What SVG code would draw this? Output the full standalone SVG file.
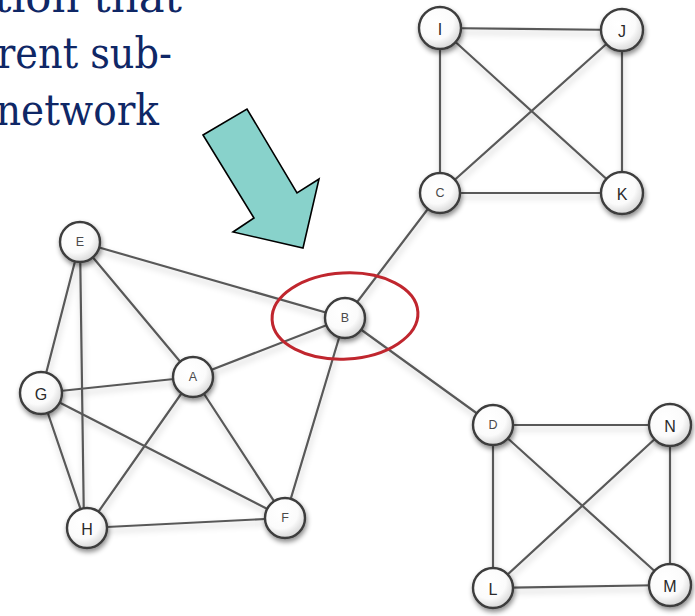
<svg xmlns="http://www.w3.org/2000/svg" width="695" height="616" viewBox="0 0 695 616">
  <defs>
    <radialGradient id="ball" cx="0.4" cy="0.35" r="0.7">
      <stop offset="0" stop-color="#ffffff"/>
      <stop offset="0.6" stop-color="#fbfbfb"/>
      <stop offset="1" stop-color="#d2d2d2"/>
    </radialGradient>
    <filter id="nodeShadow" x="-50%" y="-50%" width="200%" height="200%">
      <feDropShadow dx="1" dy="3" stdDeviation="2.5" flood-color="#000" flood-opacity="0.45"/>
    </filter>
    <filter id="edgeShadow" x="-10%" y="-10%" width="120%" height="120%">
      <feDropShadow dx="1" dy="4" stdDeviation="3" flood-color="#000" flood-opacity="0.22"/>
    </filter>
  </defs>
  <style>
    .caption { font-family: "DejaVu Serif", "Liberation Serif", serif; font-size: 43px; fill: #0f2766; }
    .edge { stroke: #595959; stroke-width: 2.2; fill: none; stroke-linecap: round; }
    .node circle { fill: url(#ball); stroke: #3c3c3c; stroke-width: 2.4; filter: url(#nodeShadow); }
    .node text { font-family: "Liberation Sans", Arial, sans-serif; text-anchor: middle; dominant-baseline: central; fill: #2a2a2a; }
    .big { font-size: 16px; }
    .small { font-size: 12.5px; fill: #4a4a4a !important; }
  </style>

  <rect width="695" height="616" fill="#ffffff"/>

  <!-- caption lines, clipped at the left edge -->
  <text class="caption" x="-6" y="12" textLength="188" lengthAdjust="spacingAndGlyphs">tion that</text>
  <text class="caption" x="-3" y="68" textLength="175" lengthAdjust="spacingAndGlyphs">rent sub-</text>
  <text class="caption" x="-4" y="125" textLength="163" lengthAdjust="spacingAndGlyphs">network</text>

  <!-- connectors -->
  <g id="edges" filter="url(#edgeShadow)">
    <line class="edge" x1="80" y1="242" x2="345" y2="318"/>
    <line class="edge" x1="80" y1="242" x2="41" y2="393"/>
    <line class="edge" x1="80" y1="242" x2="84" y2="528"/>
    <line class="edge" x1="80" y1="242" x2="193" y2="377"/>
    <line class="edge" x1="41" y1="393" x2="193" y2="377"/>
    <line class="edge" x1="41" y1="393" x2="87" y2="528"/>
    <line class="edge" x1="41" y1="393" x2="285" y2="518"/>
    <line class="edge" x1="193" y1="377" x2="345" y2="318"/>
    <line class="edge" x1="193" y1="377" x2="87" y2="528"/>
    <line class="edge" x1="193" y1="377" x2="285" y2="518"/>
    <line class="edge" x1="87" y1="528" x2="285" y2="518"/>
    <line class="edge" x1="345" y1="318" x2="285" y2="518"/>
    <line class="edge" x1="345" y1="318" x2="440" y2="193"/>
    <line class="edge" x1="345" y1="318" x2="493" y2="425"/>
    <line class="edge" x1="440" y1="28" x2="622" y2="30"/>
    <line class="edge" x1="440" y1="28" x2="440" y2="193"/>
    <line class="edge" x1="440" y1="28" x2="622" y2="193"/>
    <line class="edge" x1="622" y1="30" x2="622" y2="193"/>
    <line class="edge" x1="622" y1="30" x2="440" y2="193"/>
    <line class="edge" x1="440" y1="193" x2="622" y2="193"/>
    <line class="edge" x1="493" y1="425" x2="670" y2="425"/>
    <line class="edge" x1="493" y1="425" x2="493" y2="588"/>
    <line class="edge" x1="493" y1="425" x2="670" y2="585"/>
    <line class="edge" x1="670" y1="425" x2="493" y2="588"/>
    <line class="edge" x1="670" y1="425" x2="670" y2="585"/>
    <line class="edge" x1="493" y1="588" x2="670" y2="585"/>
  </g>

  <!-- nodes -->
  <g id="node-E" class="node"><circle cx="80" cy="242" r="20"/><text class="small" x="80" y="242">E</text></g>
  <g id="node-G" class="node"><circle cx="41" cy="393" r="21"/><text class="big" x="41" y="394">G</text></g>
  <g id="node-A" class="node"><circle cx="193" cy="377" r="20"/><text class="small" x="193" y="377">A</text></g>
  <g id="node-H" class="node"><circle cx="87" cy="528" r="20"/><text class="big" x="87" y="529">H</text></g>
  <g id="node-F" class="node"><circle cx="285" cy="518" r="20"/><text class="small" x="285" y="518">F</text></g>
  <g id="node-B" class="node"><circle cx="345" cy="318" r="20"/><text class="small" x="345" y="318">B</text></g>
  <g id="node-C" class="node"><circle cx="440" cy="193" r="20"/><text class="small" x="440" y="193">C</text></g>
  <g id="node-I" class="node"><circle cx="440" cy="28" r="21"/><text class="big" x="440" y="29">I</text></g>
  <g id="node-J" class="node"><circle cx="622" cy="30" r="21"/><text class="big" x="622" y="31">J</text></g>
  <g id="node-K" class="node"><circle cx="622" cy="193" r="21"/><text class="big" x="622" y="194">K</text></g>
  <g id="node-D" class="node"><circle cx="493" cy="425" r="20"/><text class="small" x="493" y="425">D</text></g>
  <g id="node-N" class="node"><circle cx="670" cy="425" r="21"/><text class="big" x="670" y="426">N</text></g>
  <g id="node-L" class="node"><circle cx="493" cy="588" r="20"/><text class="big" x="493" y="589">L</text></g>
  <g id="node-M" class="node"><circle cx="670" cy="585" r="21"/><text class="big" x="670" y="586">M</text></g>

  <!-- highlight ring around the bridge node -->
  <ellipse id="highlight" cx="345" cy="316" rx="73" ry="43" transform="rotate(-3 345 316)" fill="none" stroke="#c0262e" stroke-width="3"/>

  <!-- pointer arrow -->
  <polygon id="pointer" points="203,135 247,109 297,193 319,179 303,248 233,232 254,218" fill="#88d2cb" stroke="#000" stroke-width="1.6" stroke-linejoin="miter"/>
</svg>
